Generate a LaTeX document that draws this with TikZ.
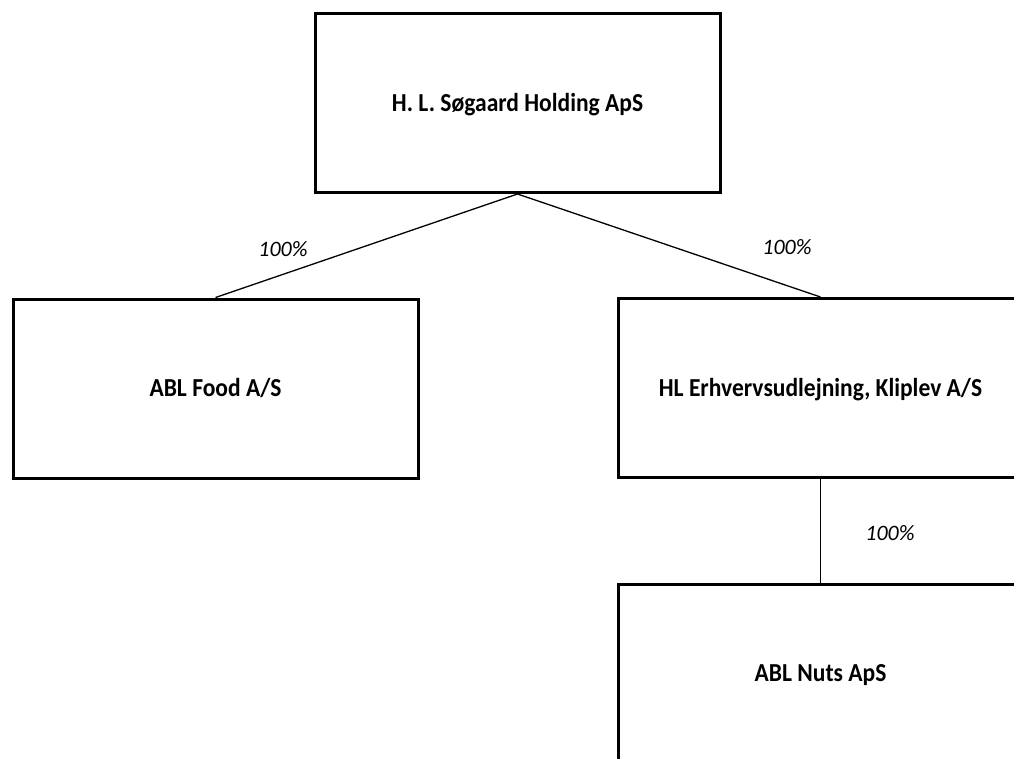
\documentclass[tikz,border=0pt]{standalone}
\usepackage{fontspec}
\setmainfont{Carlito}
\begin{document}
\begin{tikzpicture}[x=1pt,y=-1pt,
  company/.style={draw, line width=3pt, minimum width=405pt, minimum height=179pt,
    inner sep=0pt, font=\bfseries\fontsize{24}{28}\selectfont, text height=16pt, text depth=0pt},
  link/.style={line width=1.3pt},
  pct/.style={font=\itshape\fontsize{22}{26}\selectfont, inner sep=0pt}]
\useasboundingbox (0,0) rectangle (1014,758);
\fill[white] (0,0) rectangle (1014,758);
\clip (0,0) rectangle (1014,758);
\node[company] (top) at (517.5,103) {\scalebox{0.98}[1.08]{H. L. Søgaard Holding ApS}};
\node[company] (food) at (215.5,388.5) {\scalebox{0.98}[1.08]{ABL Food A/S}};
\node[company] (hl) at (820.5,388) {\scalebox{0.98}[1.08]{HL Erhvervsudlejning, Kliplev A/S}};
\node[company] (nuts) at (820.5,673.5) {\scalebox{0.98}[1.08]{ABL Nuts ApS}};
\draw[link] (top.south) -- (food.north);
\draw[link] (top.south) -- (hl.north);
\draw[link] (hl.south) -- (nuts.north);
\node[pct] (p1) at (283,249) {100\%};
\node[pct] (p2) at (787,247) {100\%};
\node[pct] (p3) at (890,533) {100\%};
\end{tikzpicture}
\end{document}
